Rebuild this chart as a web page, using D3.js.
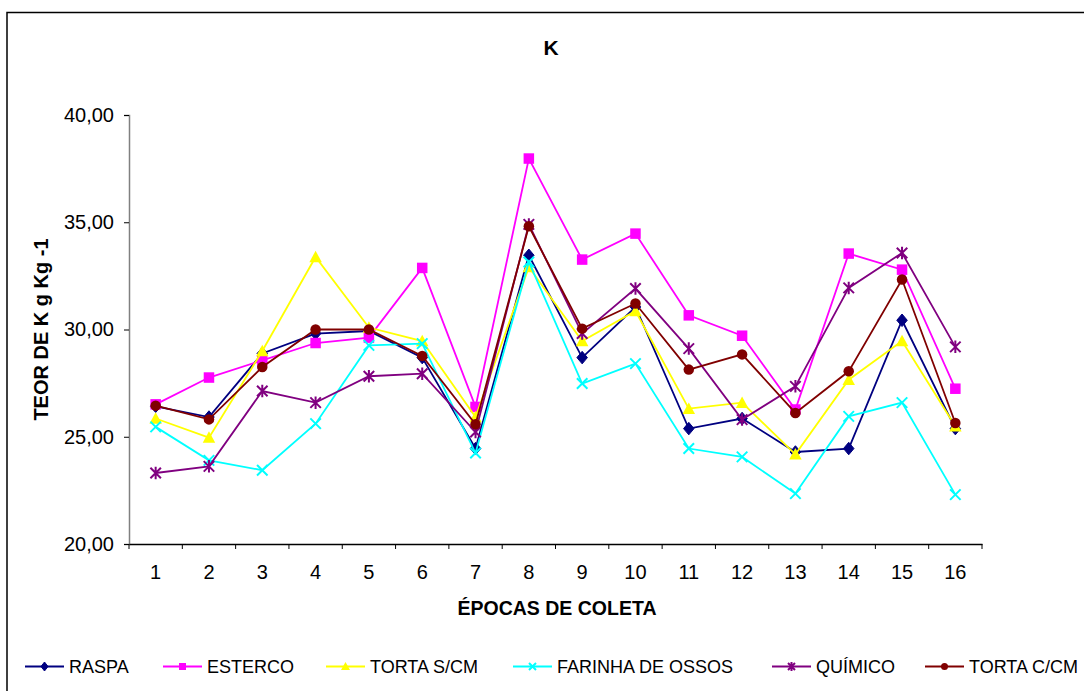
<!DOCTYPE html>
<html><head><meta charset="utf-8">
<script src="https://cdn.jsdelivr.net/npm/d3@7"></script>
<style>body{margin:0;background:#fff}svg{display:block}text{font-family:"Liberation Sans",Arial,sans-serif}</style>
</head><body>
<svg id="c" width="1084" height="691"></svg>
<script>
const categories = ["1","2","3","4","5","6","7","8","9","10","11","12","13","14","15","16"];
const yTicks = [20,25,30,35,40];
const seriesNames = ["RASPA","ESTERCO","TORTA S/CM","FARINHA DE OSSOS","QUÍMICO","TORTA C/CM"];
const raspa     = [26.42,25.92,28.88,29.81,29.93,28.69,24.45,33.46,28.69,31.05,25.38,25.85,24.29,24.45,30.43,25.38];
const esterco   = [26.51,27.76,28.56,29.37,29.62,32.87,26.39,37.97,33.26,34.47,30.66,29.71,26.27,33.54,32.79,27.24];
const tortaSCM  = [25.85,24.96,29.00,33.38,30.09,29.46,25.92,32.91,29.46,30.86,26.31,26.59,24.18,27.66,29.46,25.49];
const farinha   = [25.46,23.90,23.44,25.61,29.26,29.34,24.24,33.15,27.48,28.41,24.45,24.06,22.35,25.95,26.59,22.30];
const quimico   = [23.31,23.62,27.13,26.59,27.82,27.94,25.22,34.90,29.81,31.91,29.11,25.80,27.35,31.94,33.57,29.19];
const tortaCCM  = [26.45,25.81,28.25,30.00,30.00,28.77,25.58,34.81,30.04,31.21,28.13,28.84,26.11,28.05,32.33,25.64];
const seriesValues = [raspa, esterco, tortaSCM, farinha, quimico, tortaCCM];
const colors = ["#000080","#FF00FF","#FFFF00","#00FFFF","#800080","#800000"];
const markers = ["diamond","square","triangle","x","star","circle"];

const svg = d3.select("#c");
svg.append("rect").attr("x",7).attr("y",12.5).attr("width",1200).attr("height",800)
  .attr("fill","none").attr("stroke","#000").attr("stroke-width",1.5);

const L=129, R=982, T=115, B=544;
const x = d3.scaleBand().domain(categories).range([L,R]);
const y = d3.scaleLinear().domain([20,40]).range([B,T]);

const ya = svg.append("g").attr("transform",`translate(${L},0)`)
  .call(d3.axisLeft(y).tickValues(yTicks).tickSize(5).tickPadding(10)
    .tickFormat(d=>d3.format(".2f")(d).replace(".",",")));
ya.select(".domain").attr("stroke","#808080").attr("stroke-width",1.5);
ya.selectAll(".tick line").attr("stroke","#000");
ya.selectAll("text").attr("font-size",20).attr("fill","#000").style("font-family","Liberation Sans, Arial, sans-serif");

const xa = svg.append("g").attr("transform",`translate(0,${B})`)
  .call(d3.axisBottom(x).tickSize(0).tickPadding(21));
xa.select(".domain").attr("stroke","#000").attr("stroke-width",1.5);
xa.selectAll("text").attr("font-size",20).attr("fill","#000").style("font-family","Liberation Sans, Arial, sans-serif");
const bounds = categories.map((c)=>x(c)).concat([R]);
svg.append("g").selectAll("line").data(bounds).join("line")
  .attr("x1",d=>d).attr("x2",d=>d).attr("y1",B).attr("y2",B+5)
  .attr("stroke","#000").attr("stroke-width",1);

svg.append("text").attr("x",551).attr("y",55).attr("text-anchor","middle")
  .attr("font-size",21).attr("font-weight","bold").text("K");
svg.append("text").attr("x",557).attr("y",615).attr("text-anchor","middle")
  .attr("font-size",19.5).attr("font-weight","bold").text("ÉPOCAS DE COLETA");
svg.append("text").attr("transform",`translate(48,${(T+B)/2}) rotate(-90)`).attr("text-anchor","middle")
  .attr("font-size",20).attr("font-weight","bold").text("TEOR DE K g Kg -1");

function drawMarker(g, type, color, s){
  const h=s/2;
  if(type==="diamond") g.append("path").attr("d",`M0,${-h-1}L${h},0L0,${h+1}L${-h},0Z`).attr("fill",color).attr("stroke",color);
  else if(type==="square") g.append("rect").attr("x",-h).attr("y",-h).attr("width",s).attr("height",s).attr("fill",color);
  else if(type==="triangle") g.append("path").attr("d",`M0,${-h-1}L${h+1},${h}L${-h-1},${h}Z`).attr("fill",color);
  else if(type==="circle") g.append("circle").attr("r",h).attr("fill",color);
  else if(type==="x") g.append("path").attr("d",`M${-h},${-h}L${h},${h}M${-h},${h}L${h},${-h}`).attr("stroke",color).attr("stroke-width",2).attr("fill","none");
  else if(type==="star") g.append("path").attr("d",`M${-h},${-h}L${h},${h}M${-h},${h}L${h},${-h}M0,${-h-1}L0,${h+1}`).attr("stroke",color).attr("stroke-width",2).attr("fill","none");
}

const line = d3.line().x((d,i)=>x(categories[i])+x.bandwidth()/2).y(d=>y(d));
seriesValues.forEach((vals,si)=>{
  const g = svg.append("g");
  g.append("path").datum(vals).attr("d",line).attr("fill","none")
    .attr("stroke",colors[si]).attr("stroke-width",1.8);
  vals.forEach((v,i)=>{
    const mg = g.append("g").attr("transform",`translate(${x(categories[i])+x.bandwidth()/2},${y(v)})`);
    drawMarker(mg, markers[si], colors[si], 10.5);
  });
});

const legX = [25,163,326,513,772,925];
const legY = 666.5;
seriesNames.forEach((n,si)=>{
  const g = svg.append("g").attr("transform",`translate(${legX[si]},${legY})`);
  g.append("line").attr("x1",0).attr("x2",39).attr("y1",0).attr("y2",0).attr("stroke",colors[si]).attr("stroke-width",2);
  const mg = g.append("g").attr("transform","translate(19.5,0)");
  drawMarker(mg, markers[si], colors[si], 7);
  g.append("text").attr("x",44).attr("y",6.5).attr("font-size",18).attr("fill","#000").text(n);
});
</script>
</body></html>
